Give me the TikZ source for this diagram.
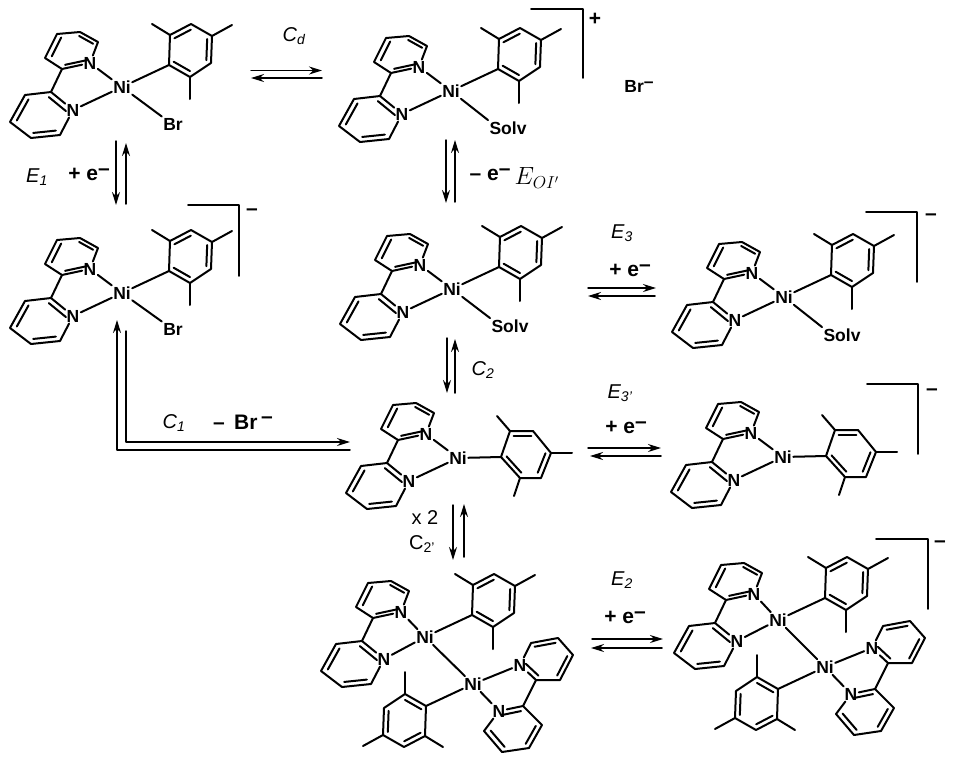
\documentclass[tikz,border=0pt]{standalone}
\usepackage{fontspec}
\setmainfont{Liberation Sans}
\usetikzlibrary{arrows.meta, calc}
\newcommand{\ringbond}[3]{\draw ($(#1)!.22!(#3)$) -- ($(#2)!.22!(#3)$);}
\newcommand{\elec}{\textbf{e\raisebox{.42ex}{--}}}
\tikzset{
  atom/.style={font=\bfseries\fontsize{17.5}{17.5}\selectfont, inner sep=0.5pt},
  lab/.style={font=\fontsize{20}{20}\selectfont, inner sep=0pt},
  boldlab/.style={font=\bfseries\fontsize{21}{21}\selectfont, inner sep=0pt},
  eqarrow/.style={line width=1.5pt, -{Stealth[length=13pt,width=8pt]}},
  bracket/.style={line width=1.6pt},
  bipy/.pic={
    \node[atom] (N1) at (-32,-24) {N};
    \node[atom] (N2) at (-49,23) {N};
    \path (-24,-45) coordinate (a1) (-42,-55) coordinate (a2) (-65,-53) coordinate (a3)
          (-77,-29) coordinate (a4) (-60,-18) coordinate (a5) (-46,-37) coordinate (ac);
    \path (-71,5) coordinate (b1) (-97,8) coordinate (b2) (-112,35) coordinate (b3)
          (-91,51) coordinate (b4) (-62,48) coordinate (b5) (-81,28) coordinate (bc);
    \draw (N1) -- (a1) -- (a2) -- (a3) -- (a4) -- (a5) -- (N1);
    \draw (N2) -- (b1) -- (b2) -- (b3) -- (b4) -- (b5) -- (N2);
    \draw (a5) -- (b1);
    \ringbond{a5}{N1}{ac}
    \ringbond{a3}{a4}{ac}
    \ringbond{a1}{a2}{ac}
    \ringbond{b1}{N2}{bc}
    \ringbond{b2}{b3}{bc}
    \ringbond{b4}{b5}{bc}
    \draw (N1) -- (Ni);
    \draw (N2) -- (Ni);
  },
  % the second ligand of the dimers
  bipyb/.pic={
    \node[atom] (N1) at (47,-19) {N};
    \node[atom] (N2) at (26,27) {N};
    \path (63,-4) coordinate (a1) (87,-4) coordinate (a2) (100,-29) coordinate (a3)
          (85,-46) coordinate (a4) (58,-41) coordinate (a5) (74,-24) coordinate (ac);
    \path (50,22) coordinate (b1) (69,41) coordinate (b2) (56,64) coordinate (b3)
          (29,68) coordinate (b4) (11,47) coordinate (b5) (41,45) coordinate (bc);
    \draw (N1) -- (a1) -- (a2) -- (a3) -- (a4) -- (a5) -- (N1);
    \draw (N2) -- (b1) -- (b2) -- (b3) -- (b4) -- (b5) -- (N2);
    \draw (a1) -- (b1);
    \ringbond{a1}{N1}{ac}
    \ringbond{a2}{a3}{ac}
    \ringbond{a4}{a5}{ac}
    \ringbond{b1}{N2}{bc}
    \ringbond{b2}{b3}{bc}
    \ringbond{b4}{b5}{bc}
    \draw (N1) -- (Ni);
    \draw (N2) -- (Ni);
  },
  mes/.pic={
    \path (47,-22) coordinate (m1) (48,-52) coordinate (m2) (69,-63) coordinate (m3)
          (90,-51) coordinate (m4) (89,-24) coordinate (m5) (68,-10) coordinate (m6)
          (68,-37) coordinate (mc);
    \draw (m1) -- (m2) -- (m3) -- (m4) -- (m5) -- (m6) -- cycle;
    \ringbond{m2}{m3}{mc}
    \ringbond{m4}{m5}{mc}
    \ringbond{m6}{m1}{mc}
    \draw (m2) -- (30,-63);
    \draw (m4) -- (110,-62);
    \draw (m6) -- (68,12);
    \draw (m1) -- (Ni);
  },
  tmes/.pic={
    \path (43,-1) coordinate (m1) (52,-27) coordinate (m2) (75,-27) coordinate (m3)
          (93,-5) coordinate (m4) (83,20) coordinate (m5) (62,20) coordinate (m6)
          (68,-4) coordinate (mc);
    \draw (m1) -- (m2) -- (m3) -- (m4) -- (m5) -- (m6) -- cycle;
    \ringbond{m2}{m3}{mc}
    \ringbond{m4}{m5}{mc}
    \ringbond{m6}{m1}{mc}
    \draw (m2) -- (39,-42);
    \draw (m4) -- (114,-5);
    \draw (m6) -- (56,38);
    \draw (m1) -- (Ni);
  },
}
\begin{document}
\begin{tikzpicture}[x=1pt, y=-1pt, line width=2pt, line join=round, line cap=round]
  \useasboundingbox (0,0) rectangle (954,766);

  % top left
  \node[atom, alias=Ni] (niA) at (122,87) {Ni};
  \pic at (niA) {bipy};
  \pic at (niA) {mes};
  \node[atom] (brA) at (173,124) {Br};
  \draw (niA) -- (brA.north west);

  % top middle
  \node[atom, alias=Ni] (niB) at (451,91) {Ni};
  \pic at (niB) {bipy};
  \pic at (niB) {mes};
  \node[atom] (solvB) at (508,128) {Solv};
  \draw (niB) -- (solvB.north west);

  % second row, left
  \node[atom, alias=Ni] (niC) at (122,293) {Ni};
  \pic at (niC) {bipy};
  \pic at (niC) {mes};
  \node[atom] (brC) at (173,329) {Br};
  \draw (niC) -- (brC.north west);

  % second row, middle
  \node[atom, alias=Ni] (niD) at (452,289) {Ni};
  \pic at (niD) {bipy};
  \pic at (niD) {mes};
  \node[atom] (solvD) at (510,326) {Solv};
  \draw (niD) -- (solvD.north west);

  % second row, right
  \node[atom, alias=Ni] (niE) at (784,297) {Ni};
  \pic at (niE) {bipy};
  \pic at (niE) {mes};
  \node[atom] (solvE) at (842,335) {Solv};
  \draw (niE) -- (solvE.north west);

  % third row
  \node[atom, alias=Ni] (niF) at (458,458) {Ni};
  \pic at (niF) {bipy};
  \pic at (niF) {tmes};
  \node[atom, alias=Ni] (niI) at (783,457) {Ni};
  \pic at (niI) {bipy};
  \pic at (niI) {tmes};

  % dimer, middle
  \node[atom, alias=Ni] (niG) at (425,637) {Ni};
  \pic at ($(niG)+(8,-1)$) {bipy};
  \pic at (niG) {mes};
  \node[atom, alias=Ni] (niH) at (473,684) {Ni};
  \pic at (niH) {bipyb};
  \pic[rotate=180] at (niH) {mes};
  \draw (niG) -- (niH);

  % dimer, right
  \node[atom, alias=Ni] (niJ) at (778,620) {Ni};
  \pic at ($(niJ)+(8,-2)$) {bipy};
  \pic at (niJ) {mes};
  \node[atom, alias=Ni] (niK) at (825,667) {Ni};
  \pic at (niK) {bipyb};
  \pic[rotate=180] at (niK) {mes};
  \draw (niJ) -- (niK);

  % brackets
  \coordinate (brkBa) at (531,9);   \coordinate (brkBb) at (583,9);   \coordinate (brkBc) at (583,78);
  \coordinate (brkCa) at (188,205); \coordinate (brkCb) at (239,205); \coordinate (brkCc) at (239,276);
  \coordinate (brkEa) at (866,212); \coordinate (brkEb) at (917,212); \coordinate (brkEc) at (917,282);
  \coordinate (brkIa) at (867,384); \coordinate (brkIb) at (918,384); \coordinate (brkIc) at (918,454);
  \coordinate (brkJa) at (876,539); \coordinate (brkJb) at (928,539); \coordinate (brkJc) at (928,609);
  \draw[bracket] (brkBa) -- (brkBb) -- (brkBc);
  \draw[bracket] (brkCa) -- (brkCb) -- (brkCc);
  \draw[bracket] (brkEa) -- (brkEb) -- (brkEc);
  \draw[bracket] (brkIa) -- (brkIb) -- (brkIc);
  \draw[bracket] (brkJa) -- (brkJb) -- (brkJc);
  \node[boldlab] (plusB) at (595,19) {+};
  \node[boldlab] (minusC) at (252,212) {--};
  \node[boldlab] (minusE) at (931,217) {--};
  \node[boldlab] (minusI) at (932,392) {--};
  \node[boldlab] (minusJ) at (940,544) {--};
  \node[atom] (brFree) at (639,86) {Br\raisebox{.5ex}{--}};

  % horizontal arrows
  \coordinate (cdA) at (251,70.5);  \coordinate (cdB) at (322,70.5);
  \coordinate (cdC) at (322,78);    \coordinate (cdD) at (251,78);
  \draw[eqarrow] (cdA) -- (cdB);
  \draw[eqarrow] (cdC) -- (cdD);
  \coordinate (ethA) at (588,288);  \coordinate (ethB) at (656,288);
  \coordinate (ethC) at (655,296);  \coordinate (ethD) at (588,296);
  \draw[eqarrow] (ethA) -- (ethB);
  \draw[eqarrow] (ethC) -- (ethD);
  \coordinate (epA) at (588,448);   \coordinate (epB) at (661,448);
  \coordinate (epC) at (661,456);   \coordinate (epD) at (590,456);
  \draw[eqarrow] (epA) -- (epB);
  \draw[eqarrow] (epC) -- (epD);
  \coordinate (etwA) at (592,639);  \coordinate (etwB) at (663,639);
  \coordinate (etwC) at (662,648);  \coordinate (etwD) at (591,648);
  \draw[eqarrow] (etwA) -- (etwB);
  \draw[eqarrow] (etwC) -- (etwD);

  % vertical arrows
  \coordinate (eoA) at (116,141);   \coordinate (eoB) at (116,205);
  \coordinate (eoC) at (126,204);   \coordinate (eoD) at (126,143);
  \draw[eqarrow] (eoA) -- (eoB);
  \draw[eqarrow] (eoC) -- (eoD);
  \coordinate (oxA) at (446,140);   \coordinate (oxB) at (446,203);
  \coordinate (oxC) at (455,202);   \coordinate (oxD) at (455,140);
  \draw[eqarrow] (oxA) -- (oxB);
  \draw[eqarrow] (oxC) -- (oxD);
  \coordinate (ctA) at (447,338);   \coordinate (ctB) at (447,393);
  \coordinate (ctC) at (455,393);   \coordinate (ctD) at (455,339);
  \draw[eqarrow] (ctA) -- (ctB);
  \draw[eqarrow] (ctC) -- (ctD);
  \coordinate (dmA) at (453,505);   \coordinate (dmB) at (453,560);
  \coordinate (dmC) at (464,557);   \coordinate (dmD) at (464,504);
  \draw[eqarrow] (dmA) -- (dmB);
  \draw[eqarrow] (dmC) -- (dmD);

  % long arrows round the corner
  \coordinate (coA) at (126,331);   \coordinate (coB) at (126,442);   \coordinate (coC) at (350,442);
  \coordinate (coD) at (350,450);   \coordinate (coE) at (117,450);   \coordinate (coF) at (117,320);
  \draw[eqarrow] (coA) -- (coB) -- (coC);
  \draw[eqarrow] (coD) -- (coE) -- (coF);

  % labels
  \node[lab] (labCd) at (294,36) {\textit{C\textsubscript{d}}};
  \node[lab] (labEa) at (37,177) {\textit{E\textsubscript{1}}};
  \node[boldlab] (labEaPlus) at (89,174) {+ \elec};
  \node[boldlab] (labOx) at (490,175) {-- \elec};
  \node[lab, font=\fontsize{23}{23}\selectfont] (labOxE) at (537,178) {$E_{OI'}$};
  \node[lab] (labEc) at (622,233) {\textit{E\textsubscript{3}}};
  \node[boldlab] (labEcPlus) at (630,270) {+ \elec};
  \node[lab] (labCb) at (483,370) {\textit{C\textsubscript{2}}};
  \node[lab] (labEp) at (620,393) {\textit{E\textsubscript{3'}}};
  \node[boldlab] (labEpPlus) at (626,427) {+ \elec};
  \node[lab] (labCa) at (174,423) {\textit{C\textsubscript{1}}};
  \node[boldlab] (labBr) at (243,422) {--\, Br\,\raisebox{.5ex}{--}};
  \node[lab] (labTwo) at (425,518) {x 2};
  \node[lab] (labCp) at (422,544) {C\textsubscript{2'}};
  \node[lab] (labEb) at (622,580) {\textit{E\textsubscript{2}}};
  \node[boldlab] (labEbPlus) at (625,617) {+ \elec};
\end{tikzpicture}
\end{document}
